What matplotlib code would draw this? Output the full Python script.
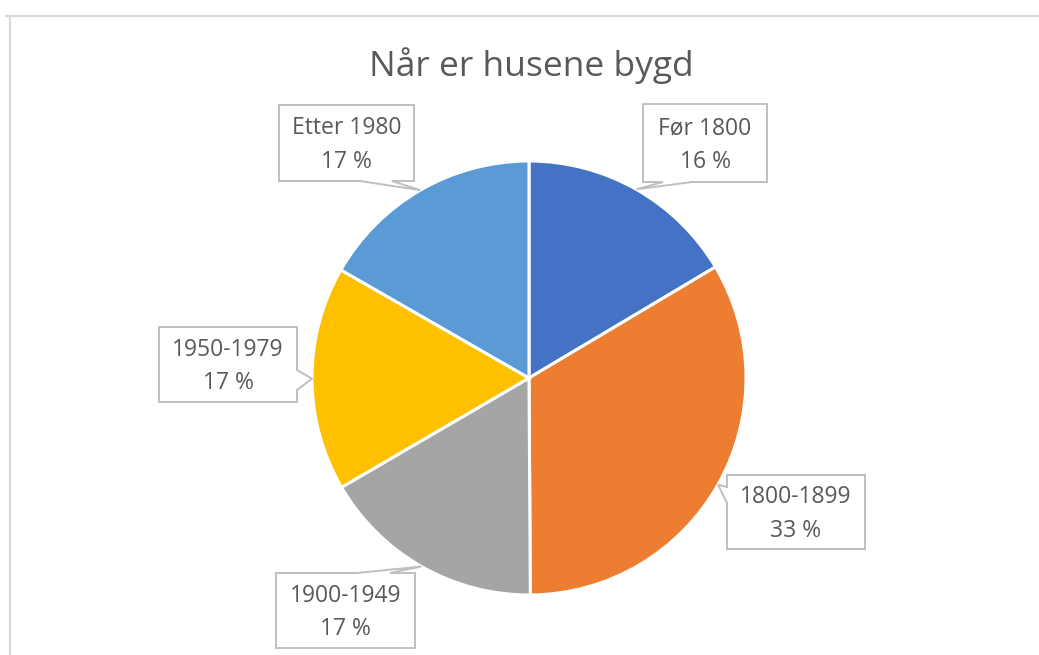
import numpy as np
import matplotlib
matplotlib.use("Agg")
import matplotlib.pyplot as plt
from matplotlib.patches import Polygon

# data
categories = ["Før 1800", "1800-1899", "1900-1949", "1950-1979", "Etter 1980"]
shares = [16.45, 33.45, 16.7, 16.7, 16.7]
colors = ["#4472C4", "#ED7D31", "#A5A5A5", "#FFC000", "#5B9BD5"]
title = "Når er husene bygd"

W, H = 1039, 655
TEXT = "#595959"
plt.rcParams["font.family"] = ["Open Sans", "DejaVu Sans"]

fig = plt.figure(figsize=(W / 100, H / 100), dpi=100)
ax = fig.add_axes([0, 0, 1, 1])

# pie geometry in pixel units (y up)
cx, cy, r = 529, H - 378, 217
wedges, _ = ax.pie(shares, colors=colors, startangle=90, counterclock=False,
                   center=(cx, cy), radius=r,
                   wedgeprops=dict(edgecolor="white", linewidth=2.2))
ax.set_xlim(0, W)
ax.set_ylim(0, H)
ax.set_aspect("equal")
ax.axis("off")

# chart border (top + left visible)
ax.plot([5, W], [H - 16, H - 16], color="#D9D9D9", lw=1.6, solid_capstyle="butt")
ax.plot([10, 10], [0, H - 16], color="#D9D9D9", lw=1.6, solid_capstyle="butt")

ax.text(cx + 2, H - 66, title, ha="center", va="center", fontsize=25.5, color=TEXT)

# callout boxes: (x0, y0, x1, y1) in image pixels (y down), notch side, notch span
boxes = [
    ((643, 104, 767, 182), "bottom", (663, 692)),
    ((727, 475, 865, 549), "left", (487, 503)),
    ((276, 573, 415, 648), "top", (357, 390)),
    ((159, 327, 297, 402), "right", (370, 390)),
    ((279, 105, 414, 181), "bottom", (360, 392)),
]

total = sum(shares)
for w, cat, val, (box, side, span) in zip(wedges, categories, shares, boxes):
    mid = np.deg2rad((w.theta1 + w.theta2) / 2)
    tip = (cx + r * np.cos(mid), cy + r * np.sin(mid))
    x0, y0, x1, y1 = box
    y0, y1 = H - y0, H - y1  # to y up: y0 top, y1 bottom
    a, b = span
    if side == "bottom":
        pts = [(x0, y0), (x1, y0), (x1, y1), (b, y1), tip, (a, y1), (x0, y1)]
    elif side == "top":
        pts = [(x0, y0), (a, y0), tip, (b, y0), (x1, y0), (x1, y1), (x0, y1)]
    elif side == "right":
        pts = [(x0, y0), (x1, y0), (x1, H - a), tip, (x1, H - b), (x1, y1), (x0, y1)]
    else:
        pts = [(x0, y0), (x1, y0), (x1, y1), (x0, y1), (x0, H - b), tip, (x0, H - a)]
    ax.add_patch(Polygon(pts, closed=True, facecolor="white", edgecolor="#BFBFBF",
                         lw=1.4, joinstyle="miter", zorder=3))
    pct = f"{round(val / total * 100)} %"
    ax.text((x0 + x1) / 2, (y0 + y1) / 2 - 2, f"{cat}\n{pct}", ha="center", va="center",
            fontsize=16.5, color=TEXT, linespacing=1.55, zorder=4)

fig.savefig("out.png", dpi=100)
